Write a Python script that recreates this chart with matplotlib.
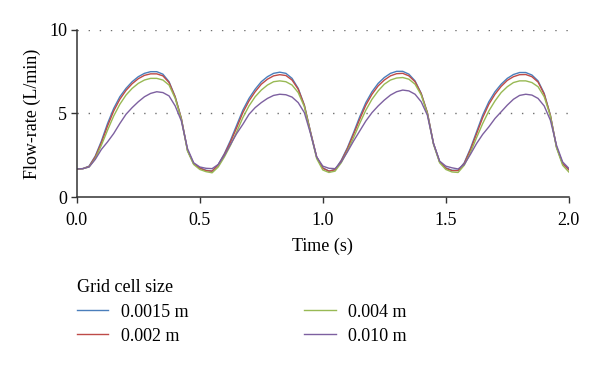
import numpy as np
import matplotlib
matplotlib.use("Agg")
import matplotlib.pyplot as plt

plt.rcParams['font.family'] = ['Liberation Serif', 'DejaVu Serif']

# time axis, one sample every 0.025 s
time_s = np.linspace(0.0, 2.0, 81)

flow_0015 = [
    1.68, 1.70, 1.85, 2.45, 3.35, 4.40, 5.30, 6.00, 6.50, 6.90, 7.20, 7.40, 7.50, 7.50, 7.35, 6.90, 6.00, 4.70, 2.80, 2.00,
    1.75, 1.60, 1.55, 1.95, 2.60, 3.40, 4.30, 5.20, 5.90, 6.45, 6.90, 7.20, 7.40, 7.47, 7.40, 7.10, 6.50, 5.50, 3.90, 2.40,
    1.75, 1.55, 1.65, 2.20, 2.95, 3.85, 4.80, 5.65, 6.30, 6.80, 7.15, 7.40, 7.52, 7.52, 7.35, 6.95, 6.20, 5.05, 3.20, 2.10,
    1.75, 1.60, 1.60, 2.05, 2.90, 3.90, 4.90, 5.70, 6.30, 6.75, 7.10, 7.33, 7.45, 7.45, 7.30, 6.95, 6.20, 4.90, 3.00, 2.00,
    1.65,
]
flow_002 = [
    1.68, 1.70, 1.83, 2.40, 3.25, 4.25, 5.15, 5.85, 6.38, 6.78, 7.08, 7.28, 7.37, 7.37, 7.25, 6.85, 5.98, 4.70, 2.80, 2.00,
    1.72, 1.58, 1.55, 1.92, 2.55, 3.30, 4.15, 5.05, 5.75, 6.30, 6.75, 7.05, 7.25, 7.32, 7.27, 7.00, 6.45, 5.48, 3.90, 2.40,
    1.72, 1.55, 1.63, 2.15, 2.88, 3.75, 4.65, 5.50, 6.15, 6.65, 7.00, 7.25, 7.38, 7.40, 7.25, 6.90, 6.18, 5.05, 3.20, 2.10,
    1.72, 1.58, 1.58, 2.00, 2.82, 3.78, 4.75, 5.55, 6.15, 6.62, 6.98, 7.20, 7.32, 7.33, 7.20, 6.88, 6.15, 4.90, 3.00, 2.00,
    1.63,
]
flow_004 = [
    1.68, 1.70, 1.80, 2.30, 3.10, 4.00, 4.85, 5.55, 6.10, 6.50, 6.80, 7.00, 7.10, 7.10, 7.00, 6.70, 5.90, 4.65, 2.75, 1.95,
    1.65, 1.52, 1.45, 1.80, 2.40, 3.10, 3.90, 4.75, 5.45, 6.00, 6.40, 6.70, 6.90, 6.95, 6.90, 6.70, 6.25, 5.40, 3.85, 2.30,
    1.62, 1.47, 1.55, 2.05, 2.75, 3.55, 4.40, 5.20, 5.85, 6.35, 6.75, 7.00, 7.12, 7.15, 7.05, 6.75, 6.10, 5.00, 3.15, 2.05,
    1.65, 1.50, 1.47, 1.90, 2.65, 3.55, 4.40, 5.15, 5.75, 6.25, 6.60, 6.85, 6.95, 6.95, 6.85, 6.60, 6.00, 4.85, 2.95, 1.90,
    1.50,
]
flow_010 = [
    1.68, 1.70, 1.80, 2.25, 2.85, 3.30, 3.80, 4.40, 4.95, 5.35, 5.70, 6.00, 6.20, 6.30, 6.25, 6.05, 5.45, 4.55, 2.90, 2.05,
    1.80, 1.72, 1.70, 1.95, 2.50, 3.15, 3.80, 4.35, 4.95, 5.35, 5.65, 5.90, 6.08, 6.15, 6.12, 5.98, 5.65, 5.05, 3.80, 2.40,
    1.85, 1.72, 1.70, 2.10, 2.70, 3.35, 3.95, 4.55, 5.05, 5.45, 5.80, 6.10, 6.30, 6.40, 6.35, 6.15, 5.70, 4.90, 3.20, 2.15,
    1.85, 1.75, 1.68, 1.95, 2.55, 3.20, 3.75, 4.20, 4.70, 5.10, 5.50, 5.85, 6.08, 6.15, 6.10, 5.90, 5.45, 4.60, 3.10, 2.10,
    1.72,
]

series = [flow_0015, flow_002, flow_004, flow_010]
labels = ["0.0015 m", "0.002 m", "0.004 m", "0.010 m"]
colors = ["#4a7ebb", "#be4b48", "#98b954", "#7d60a0"]

fig = plt.figure(figsize=(6.0, 3.69), dpi=100)
ax = fig.add_axes([0.128, 0.466, 0.82, 0.453])

for y, lab, c in zip(series, labels, colors):
    ax.plot(time_s, y, color=c, lw=1.0, label=lab)

# dotted horizontal grid at 5 and 10
for g in (5, 10):
    ax.axhline(g, color="#707070", lw=1.0, ls=(0, (1, 7)), zorder=0)

ax.set_xlim(0, 2.0)
ax.set_ylim(0, 10)
ax.set_xticks([0.0, 0.5, 1.0, 1.5, 2.0])
ax.set_xticklabels(["0.0", "0.5", "1.0", "1.5", "2.0"])
ax.set_yticks([0, 5, 10])
ax.tick_params(labelsize=13, length=4, width=1.0, color="#333333")
ax.tick_params(axis="x", pad=7)
ax.tick_params(axis="y", pad=3)

for side in ("top", "right"):
    ax.spines[side].set_visible(False)
for side in ("left", "bottom"):
    ax.spines[side].set_linewidth(1.1)
    ax.spines[side].set_color("#333333")

ax.set_xlabel("Time (s)", fontsize=13, labelpad=6)
ax.set_ylabel("Flow-rate (L/min)", fontsize=13, labelpad=6)

leg = fig.legend(loc="upper left", bbox_to_anchor=(0.128, 0.243), ncol=2,
                 frameon=False, fontsize=13, title="Grid cell size",
                 title_fontsize=13, alignment="left", handlelength=1.75,
                 handletextpad=0.7, columnspacing=6.4, labelspacing=0.4,
                 borderpad=0, borderaxespad=0)

fig.savefig("out.png", dpi=100)
